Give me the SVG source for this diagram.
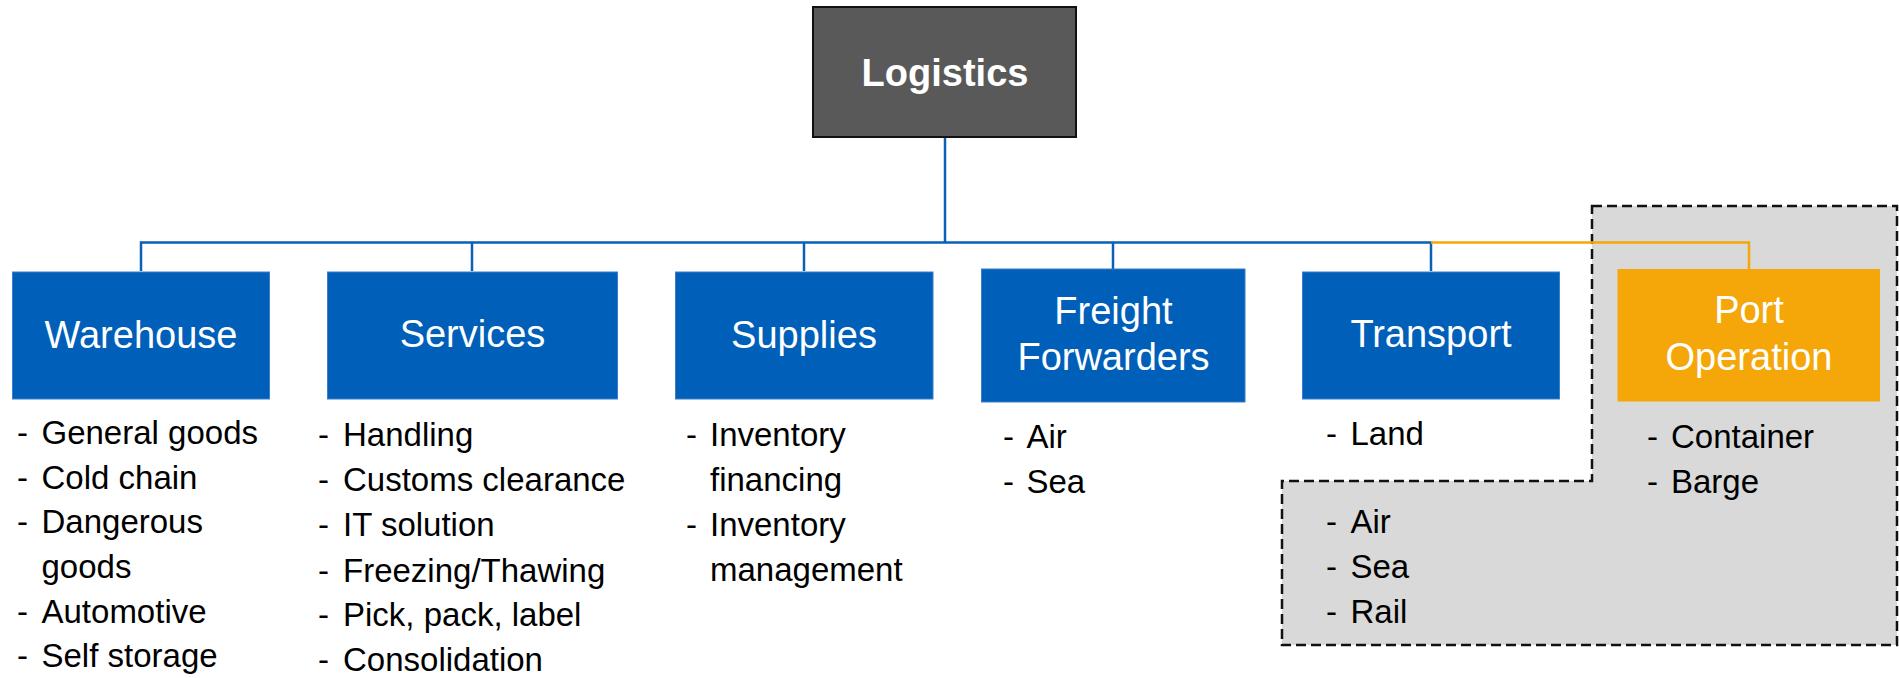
<svg xmlns="http://www.w3.org/2000/svg" width="1899" height="678" viewBox="0 0 1899 678">
<style>
.bg{fill:#ffffff}
.blue{fill:#005FB8;stroke:#3F7DC6;stroke-width:1}
.orange{fill:#F5A70A}
.root{fill:#595959;stroke:#111111;stroke-width:2}
.title{font-family:"Liberation Sans",Arial,sans-serif;font-size:38px;fill:#ffffff;text-anchor:middle}
.rootText{font-family:"Liberation Sans",Arial,sans-serif;font-size:38px;font-weight:bold;fill:#ffffff;text-anchor:middle}
.item{font-family:"Liberation Sans",Arial,sans-serif;font-size:33px;fill:#000000}
.conn{fill:none;stroke:#0A60B6;stroke-width:2.5}
.connO{fill:none;stroke:#F5A70A;stroke-width:2.5}
.region{fill:#D9D9D9;stroke:#111111;stroke-width:2.5;stroke-dasharray:10 5}
</style>
<rect class="bg" x="0" y="0" width="1899" height="678"/>
<g id="highlight-region">
<path class="region" d="M1592,206 H1897 V645 H1282 V481 H1592 Z"/>
</g>
<g id="connectors">
<path class="conn" d="M945,137 V242.5"/>
<path class="conn" d="M141,271 V242.5 H1431 V271"/>
<path class="conn" d="M472,242.5 V271"/>
<path class="conn" d="M804,242.5 V271"/>
<path class="conn" d="M1113,242.5 V269"/>
<path class="connO" d="M1431,242.5 H1749 V269"/>
</g>
<g id="node-logistics">
<rect class="root" x="813" y="7" width="263" height="130"/>
<text class="rootText" x="945" y="86">Logistics</text>
</g>
<g id="node-warehouse">
<rect class="blue" x="12.5" y="272" width="257" height="127"/>
<text class="title" x="141" y="348">Warehouse</text>
<text class="item" x="17" y="444">-</text><text class="item" x="41.5" y="444">General goods</text>
<text class="item" x="17" y="489">-</text><text class="item" x="41.5" y="489">Cold chain</text>
<text class="item" x="17" y="533">-</text><text class="item" x="41.5" y="533">Dangerous</text>
<text class="item" x="41.5" y="578">goods</text>
<text class="item" x="17" y="623">-</text><text class="item" x="41.5" y="623">Automotive</text>
<text class="item" x="17" y="667">-</text><text class="item" x="41.5" y="667">Self storage</text>
</g>
<g id="node-services">
<rect class="blue" x="327.5" y="272" width="290" height="127"/>
<text class="title" x="472.5" y="347">Services</text>
<text class="item" x="318" y="446">-</text><text class="item" x="343" y="446">Handling</text>
<text class="item" x="318" y="491">-</text><text class="item" x="343" y="491">Customs clearance</text>
<text class="item" x="318" y="536">-</text><text class="item" x="343" y="536">IT solution</text>
<text class="item" x="318" y="582">-</text><text class="item" x="343" y="582">Freezing/Thawing</text>
<text class="item" x="318" y="626">-</text><text class="item" x="343" y="626">Pick, pack, label</text>
<text class="item" x="318" y="671">-</text><text class="item" x="343" y="671">Consolidation</text>
</g>
<g id="node-supplies">
<rect class="blue" x="675.5" y="272" width="257.5" height="127"/>
<text class="title" x="804" y="348">Supplies</text>
<text class="item" x="686" y="446">-</text><text class="item" x="710" y="446">Inventory</text>
<text class="item" x="710" y="491">financing</text>
<text class="item" x="686" y="536">-</text><text class="item" x="710" y="536">Inventory</text>
<text class="item" x="710" y="581">management</text>
</g>
<g id="node-freight">
<rect class="blue" x="981.5" y="269" width="263.5" height="133"/>
<text class="title" x="1113.5" y="324">Freight</text>
<text class="title" x="1113.5" y="370">Forwarders</text>
<text class="item" x="1003" y="448">-</text><text class="item" x="1026.5" y="448">Air</text>
<text class="item" x="1003" y="493">-</text><text class="item" x="1026.5" y="493">Sea</text>
</g>
<g id="node-transport">
<rect class="blue" x="1302.5" y="272" width="257" height="127"/>
<text class="title" x="1431" y="347">Transport</text>
<text class="item" x="1326" y="445">-</text><text class="item" x="1350.5" y="445">Land</text>
<text class="item" x="1326" y="533">-</text><text class="item" x="1350.5" y="533">Air</text>
<text class="item" x="1326" y="578">-</text><text class="item" x="1350.5" y="578">Sea</text>
<text class="item" x="1326" y="623">-</text><text class="item" x="1350.5" y="623">Rail</text>
</g>
<g id="node-port">
<rect class="orange" x="1617.5" y="269" width="262.5" height="132.5"/>
<text class="title" x="1749" y="323">Port</text>
<text class="title" x="1749" y="370">Operation</text>
<text class="item" x="1647" y="448">-</text><text class="item" x="1671" y="448">Container</text>
<text class="item" x="1647" y="493">-</text><text class="item" x="1671" y="493">Barge</text>
</g>
</svg>
